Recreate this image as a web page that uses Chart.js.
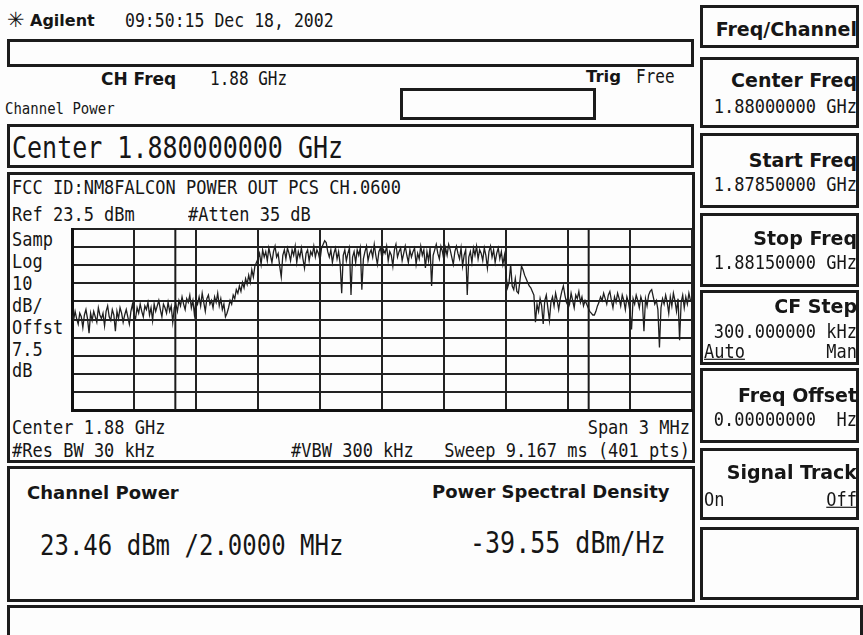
<!DOCTYPE html>
<html>
<head>
<meta charset="utf-8">
<script src="https://cdn.jsdelivr.net/npm/chart.js@4/dist/chart.umd.min.js"></script>
<style>
  body { margin:0; width:863px; height:635px; overflow:hidden; position:relative; background:#fdfdfd; color:#161616; font-family:"DejaVu Sans Mono", monospace; }
  .t { position:absolute; white-space:pre; line-height:1; }
  .m { transform:scaleY(1.18); transform-origin:0 0; }
  .b { font-family:"DejaVu Sans", sans-serif; font-weight:bold; }
  .box { position:absolute; border:3px solid #1c1c1c; box-sizing:border-box; }
  .u { text-decoration:underline; }
  #plot { position:absolute; left:62px; top:219px; width:640px; height:201px; }
</style>
</head>
<body>

<!-- header -->
<div class="t" style="left:7px;top:10px;font-size:21px;font-family:'DejaVu Sans';">✳</div>
<div class="t b" style="left:30px;top:13px;font-size:16px;">Agilent</div>
<div class="t m" style="left:125px;top:12px;font-size:16.5px;">09:50:15 Dec 18, 2002</div>
<div class="box" style="left:7px;top:39px;width:687px;height:28px;"></div>

<div class="t b" style="left:101px;top:71px;font-size:17px;">CH Freq</div>
<div class="t m" style="left:210px;top:70px;font-size:16px;">1.88 GHz</div>
<div class="t b" style="left:586px;top:69px;font-size:16.5px;">Trig</div>
<div class="t m" style="left:636px;top:68px;font-size:16px;">Free</div>
<div class="t m" style="left:5px;top:100px;font-size:14px;">Channel Power</div>
<div class="box" style="left:400px;top:88px;width:196px;height:32px;"></div>

<div class="box" style="left:7px;top:124px;width:687px;height:44px;"></div>
<div class="t m" style="left:12px;top:133px;font-size:25px;">Center 1.880000000 GHz</div>

<!-- trace panel -->
<div class="box" style="left:7px;top:172px;width:688px;height:291px;"></div>
<div class="t m" style="left:12px;top:177px;font-size:17px;">FCC ID:NM8FALCON POWER OUT PCS CH.0600</div>
<div class="t m" style="left:12px;top:204px;font-size:17px;">Ref 23.5 dBm</div>
<div class="t m" style="left:188px;top:204px;font-size:17px;">#Atten 35 dB</div>
<div class="t m" style="left:12px;top:229px;font-size:17px;">Samp</div>
<div class="t m" style="left:12px;top:251px;font-size:17px;">Log</div>
<div class="t m" style="left:12px;top:273px;font-size:17px;">10</div>
<div class="t m" style="left:12px;top:295px;font-size:17px;">dB/</div>
<div class="t m" style="left:12px;top:317px;font-size:17px;">Offst</div>
<div class="t m" style="left:12px;top:339px;font-size:17px;">7.5</div>
<div class="t m" style="left:12px;top:360px;font-size:17px;">dB</div>
<div class="t m" style="left:12px;top:417px;font-size:17px;">Center 1.88 GHz</div>
<div class="t m" style="right:173px;top:417px;font-size:17px;transform-origin:100% 0;">Span 3 MHz</div>
<div class="t m" style="left:12px;top:440px;font-size:17px;">#Res BW 30 kHz</div>
<div class="t m" style="left:291px;top:440px;font-size:17px;">#VBW 300 kHz</div>
<div class="t m" style="right:173px;top:440px;font-size:17px;transform-origin:100% 0;">Sweep 9.167 ms (401 pts)</div>
<div id="plot"><canvas id="chart"></canvas></div>

<!-- readout panel -->
<div class="box" style="left:7px;top:466px;width:688px;height:136px;"></div>
<div class="t b" style="left:27px;top:484px;font-size:18px;">Channel Power</div>
<div class="t b" style="left:432px;top:483px;font-size:18px;">Power Spectral Density</div>
<div class="t m" style="left:40px;top:531px;font-size:24px;">23.46 dBm /2.0000 MHz</div>
<div class="t m" style="left:470px;top:528px;font-size:25px;">-39.55 dBm/Hz</div>
<div class="box" style="left:7px;top:605px;width:856px;height:40px;"></div>

<!-- softkeys -->
<div class="box" style="left:700px;top:5px;width:159px;height:43px;"></div>
<div class="t b" style="right:6px;top:20px;font-size:19px;">Freq/Channel</div>

<div class="box" style="left:700px;top:57px;width:159px;height:71px;"></div>
<div class="t b" style="right:6px;top:71px;font-size:19px;">Center Freq</div>
<div class="t m" style="right:6px;top:96px;font-size:17px;transform-origin:100% 0;">1.88000000 GHz</div>

<div class="box" style="left:700px;top:133px;width:159px;height:75px;"></div>
<div class="t b" style="right:6px;top:151px;font-size:19px;">Start Freq</div>
<div class="t m" style="right:6px;top:174px;font-size:17px;transform-origin:100% 0;">1.87850000 GHz</div>

<div class="box" style="left:700px;top:213px;width:159px;height:74px;"></div>
<div class="t b" style="right:6px;top:229px;font-size:19px;">Stop Freq</div>
<div class="t m" style="right:6px;top:252px;font-size:17px;transform-origin:100% 0;">1.88150000 GHz</div>

<div class="box" style="left:700px;top:290px;width:159px;height:75px;"></div>
<div class="t b" style="right:6px;top:297px;font-size:19px;">CF Step</div>
<div class="t m" style="right:6px;top:321px;font-size:17px;transform-origin:100% 0;">300.000000 kHz</div>
<div class="t m u" style="left:704px;top:341px;font-size:17px;">Auto</div>
<div class="t m" style="right:6px;top:341px;font-size:17px;transform-origin:100% 0;">Man</div>

<div class="box" style="left:700px;top:368px;width:159px;height:75px;"></div>
<div class="t b" style="right:6px;top:386px;font-size:19px;">Freq Offset</div>
<div class="t m" style="right:6px;top:409px;font-size:17px;transform-origin:100% 0;">0.00000000  Hz</div>

<div class="box" style="left:700px;top:448px;width:159px;height:72px;"></div>
<div class="t b" style="right:6px;top:463px;font-size:19px;">Signal Track</div>
<div class="t m" style="left:704px;top:489px;font-size:17px;">On</div>
<div class="t m u" style="right:6px;top:489px;font-size:17px;transform-origin:100% 0;">Off</div>

<div class="box" style="left:700px;top:527px;width:159px;height:73px;"></div>

<script>
// sweep settings (kHz offset from center 1.88 GHz)
const spanKHz = 3000;
const chanBwKHz = 2000;
const refLevel = 23.5;   // dBm, top graticule line
const dbPerDiv = 10;
const divisions = 10;

// trace, dBm, 401 sweep points left to right
const floorLeft = [
  -24, -27, -22, -26, -29, -23, -25, -31, -24, -21, -26, -34, -23, -27, -22, -25, -28, -20, -24, -26, -23,
  -30, -22, -19, -25, -27, -21, -24, -33, -22, -26, -20, -23, -28, -24, -21, -25, -29, -22, -18, -24, -26,
  -20, -23, -18, -22, -25, -19, -21, -17, -24, -20, -27, -18, -22, -19, -16, -21, -25, -18, -20, -23, -17,
  -22, -19, -28, -20, -18, -22,
  -16, -19, -14, -18, -21, -15, -17, -13, -20, -16, -24, -15, -18, -14, -19, -12, -17, -22, -15, -13, -18,
  -16, -20, -14, -17, -12, -19, -15, -21, -18, -25, -23
];
const riseEdge = [-20, -16, -18, -13, -15, -10, -12, -8, -11, -6, -9, -4, -7, -2, -6, 1, -3, 3, 5];
const channelTop = [
  7, 10, 4, 12, 8, 11, 6, 13, 9, 5, 11, 14, 8, 10, 3, -3, 9, 12, 7, 13,
  10, 6, 12, 9, 14, 5, 11, 8, 13, 7, 2, 10, 12, 6, 11, 9, 14, 8, 12, 10,
  6, 13, 15, 17, 16, 11, 8, 12, 5, 10, 13, 7, 11, 4, -12, 9, 12, 6, 10, 13,
  -13, 8, 11, 5, 12, 9, 13, -10, 7, 11, 14, 6, 10, 12, 8, 15, 9, 4, 11, 13,
  7, 12, 10, 14, 6, 11, 9, 3, 12, 15, 8, 11, 13, 6, 10, 14, 9, 5, 12, 8,
  11, 13, 4, 10, 7, 14, 9, 12, 2, 11, 6, 13, -8, 9, 12, 15, 10, 7, 14, 11,
  6, 13, 9, 15, 12, 8, 4, 11, 14, 10, 7, 13, 3, 9, 12, -13, 8, 11, 5, 13,
  9, 14, 7, 12, 10, 6, 13, 9, 2, 11, 14, 8, 12, 5, 10, 13, 7, 11, 4, 9
];
const fallEdge = [-2, -9, -6, 4, -8, -10, -4, -11, -12, -5, 3, 1, -2, -4, -6, -8, -9, -11, -13, -28];
const floorRight = [
  -18, -22, -15, -19, -29, -16, -13, -20, -27, -17, -14, -19, -12, -16, -21, -15, -11, -8, -13, -17,
  -14, -18, -12, -16, -20, -13, -15, -11, -17, -14, -19, -16, -18, -20, -22, -23, -24, -24, -22, -19,
  -17, -14, -16, -12, -15, -18, -13, -11, -16, -20, -14, -17, -12, -15, -19, -13, -16, -21, -14, -17,
  -22, -32, -15, -18, -13, -16, -20, -14, -17, -33, -15, -19, -13, -11, -10, -14, -18, -16, -21, -42,
  -20, -15, -18, -13, -17, -23, -14, -19, -12, -16, -22, -15, -38, -17, -13, -20, -14, -18, -12, -16, -17
];

const traceDbm = [...floorLeft, ...riseEdge, ...channelTop, ...fallEdge, ...floorRight];
const stepKHz = spanKHz / (traceDbm.length - 1);
const bottomLevel = refLevel - dbPerDiv * divisions;

const tracePoints = traceDbm.map((v, i) => ({ x: -spanKHz / 2 + i * stepKHz, y: v }));

function markerLine(xk) {
  return {
    data: [{ x: xk, y: bottomLevel }, { x: xk, y: refLevel }],
    borderColor: "#1c1c1c",
    borderWidth: 2,
    pointRadius: 0,
  };
}

new Chart(document.getElementById("chart"), {
  type: "line",
  data: {
    datasets: [
      {
        data: tracePoints,
        borderColor: "#1f1f1f",
        borderWidth: 1.3,
        pointRadius: 0,
        tension: 0,
      },
      markerLine(-chanBwKHz / 2),
      markerLine(chanBwKHz / 2),
    ],
  },
  options: {
    responsive: true,
    maintainAspectRatio: false,
    animation: false,
    layout: { padding: 10 },
    plugins: { legend: { display: false }, tooltip: { enabled: false } },
    scales: {
      x: {
        type: "linear",
        min: -spanKHz / 2,
        max: spanKHz / 2,
        ticks: { display: false, stepSize: spanKHz / divisions },
        grid: { color: "#222", lineWidth: 2, drawTicks: false },
        border: { color: "#111", width: 3 },
      },
      y: {
        min: bottomLevel,
        max: refLevel,
        ticks: { display: false, stepSize: dbPerDiv },
        grid: { color: "#222", lineWidth: 2, drawTicks: false },
        border: { color: "#111", width: 3 },
      },
    },
  },
});
</script>
</body>
</html>
